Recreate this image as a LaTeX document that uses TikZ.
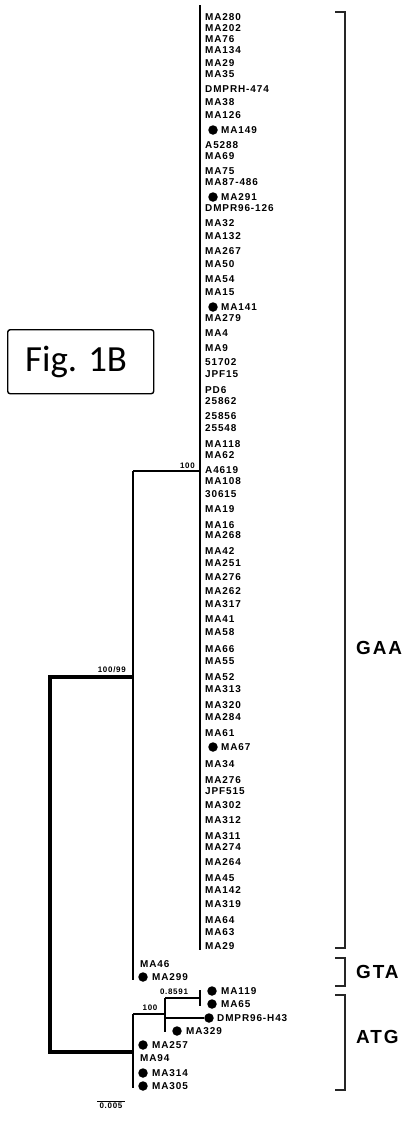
\documentclass[tikz,border=0pt]{standalone}
\usepackage{fontspec}
\newfontfamily\tipfont[LetterSpace=9]{Liberation Sans}
\newfontfamily\cladefont[LetterSpace=10]{Liberation Sans}
\newfontfamily\figfont{Carlito}
\begin{document}
\begin{tikzpicture}[x=1bp,y=-1bp,line join=miter,
  tip/.style={anchor=west,inner sep=0pt,font=\tipfont\bfseries\fontsize{10}{10}\selectfont},
  dotm/.style={circle,fill=black,inner sep=0pt,minimum size=9.5bp},
  supp/.style={inner sep=0pt,font=\tipfont\bfseries\fontsize{8}{8}\selectfont},
  clade/.style={anchor=west,inner sep=0pt,font=\cladefont\bfseries\fontsize{19}{19}\selectfont},
  brk/.style={line width=1.6bp,draw=black!85},
  thickb/.style={line width=3.8bp},
  medb/.style={line width=2.8bp},
  thinb/.style={line width=2bp},
  figbox/.style={draw,rounded corners=2.5bp,line width=1.4bp,inner sep=0pt},
  figtext/.style={inner sep=0pt,font=\figfont\fontsize{37}{37}\selectfont}]
\useasboundingbox (0,0) rectangle (411,1122);
\fill[white] (0,0) rectangle (411,1122);

% ---------- GAA tips ----------
\foreach \yy/\lab/\dt [count=\i] in {
 17/MA280/0, 28/MA202/0, 39/MA76/0, 50/MA134/0, 63/MA29/0, 74/MA35/0,
 89/DMPRH-474/0, 102/MA38/0, 115/MA126/0, 130/MA149/1, 145/A5288/0,
 156/MA69/0, 171/MA75/0, 182/MA87-486/0, 197/MA291/1, 208/DMPR96-126/0,
 223/MA32/0, 236/MA132/0, 251/MA267/0, 264/MA50/0, 279/MA54/0, 292/MA15/0,
 307/MA141/1, 318/MA279/0, 333/MA4/0, 348/MA9/0, 362/51702/0, 374/JPF15/0,
 390/PD6/0, 401/25862/0, 416/25856/0, 428/25548/0, 444/MA118/0, 455/MA62/0,
 470/A4619/0, 481/MA108/0, 494/30615/0, 509/MA19/0, 525/MA16/0, 535/MA268/0,
 551/MA42/0, 563/MA251/0, 577/MA276/0, 591/MA262/0, 604/MA317/0, 619/MA41/0,
 632/MA58/0, 649/MA66/0, 661/MA55/0, 677/MA52/0, 689/MA313/0, 705/MA320/0,
 717/MA284/0, 733/MA61/0, 747/MA67/1, 764/MA34/0, 780/MA276/0, 791/JPF515/0,
 805/MA302/0, 820/MA312/0, 836/MA311/0, 847/MA274/0, 862/MA264/0, 878/MA45/0,
 890/MA142/0, 904/MA319/0, 920/MA64/0, 932/MA63/0, 946/MA29/0} {
  \ifnum\dt=1
    \node[dotm] (gd\i) at (213,\yy) {};
    \node[tip] (g\i) at (221,\yy) {\lab};
  \else
    \node[tip] (g\i) at (205,\yy) {\lab};
  \fi
}

% ---------- GTA tips ----------
\node[tip] (ma46) at (140,964) {MA46};
\node[dotm] (d299) at (143,977) {};
\node[tip] (ma299) at (152,977) {MA299};

% ---------- ATG tips ----------
\node[dotm] (d119) at (212,991) {};
\node[tip] (ma119) at (221,991) {MA119};
\node[dotm] (d65) at (212,1004) {};
\node[tip] (ma65) at (221,1004) {MA65};
\node[dotm] (dh43) at (209,1018) {};
\node[tip] (h43) at (217,1018) {DMPR96-H43};
\node[dotm] (d329) at (177,1031) {};
\node[tip] (ma329) at (186,1031) {MA329};
\node[dotm] (d257) at (143,1045) {};
\node[tip] (ma257) at (152,1045) {MA257};
\node[tip] (ma94) at (140,1058) {MA94};
\node[dotm] (d314) at (143,1073) {};
\node[tip] (ma314) at (152,1073) {MA314};
\node[dotm] (d305) at (143,1086) {};
\node[tip] (ma305) at (152,1086) {MA305};

% ---------- tree coordinates ----------
\coordinate (R1) at (50,677);
\coordinate (R2) at (50,1052);
\coordinate (N1) at (133,677);
\coordinate (N1top) at (133,471);
\coordinate (N1bot) at (133,980);
\coordinate (N2) at (200,471);
\coordinate (N2top) at (200,5);
\coordinate (N2bot) at (200,950);
\coordinate (A) at (133,1052);
\coordinate (Atop) at (133,1014);
\coordinate (Abot) at (133,1088);
\coordinate (S) at (165,1014);
\coordinate (Stop) at (165,998);
\coordinate (Sbot) at (165,1032);
\coordinate (Sm) at (165,1018);
\coordinate (P) at (200,998);
\coordinate (Ptop) at (200,990);
\coordinate (Pbot) at (200,1006);

% ---------- tree branches ----------
\draw[thickb] (N1) -- (R1) -- (R2) -- (A);
\draw[thinb] (N1top) -- (N1bot);
\draw[thinb] (N1top) -- (N2);
\draw[medb] (N2top) -- (N2bot);
\draw[medb] (Atop) -- (Abot);
\draw[medb] (Atop) -- (S);
\draw[medb] (Stop) -- (Sbot);
\draw[medb] (Stop) -- (P);
\draw[medb] (Ptop) -- (Pbot);
\draw[medb] (Sm) -- (dh43.west);

% ---------- support values ----------
\node[supp,anchor=south east] (s1) at (195,469) {100};
\node[supp,anchor=south east] (s2) at (126,673) {100/99};
\node[supp,anchor=south] (s3) at (150,1011) {100};
\node[supp,anchor=south] (s4) at (174,995) {0.8591};

% ---------- scale bar ----------
\coordinate (sb1) at (97,1101);
\coordinate (sb2) at (125,1101);
\draw[line width=0.8bp] (sb1) -- (sb2);
\node[supp,anchor=north] (sbt) at (111,1103) {0.005};

% ---------- clade brackets ----------
\draw[brk] (335,12) -- (345,12) -- (345,948) -- (335,948);
\draw[brk] (335,958) -- (345,958) -- (345,986) -- (335,986);
\draw[brk] (335,995) -- (345,995) -- (345,1090) -- (335,1090);
\node[clade] (gaa) at (356,648) {GAA};
\node[clade] (gta) at (356,972) {GTA};
\node[clade] (atg) at (356,1037) {ATG};

% ---------- figure label ----------
\node[figbox,minimum width=146bp,minimum height=64bp,anchor=north west] (fig) at (7,329) {};
\node[figtext,anchor=west] (figt) at ([xshift=18bp]fig.west) {Fig. 1B};
\end{tikzpicture}
\end{document}
